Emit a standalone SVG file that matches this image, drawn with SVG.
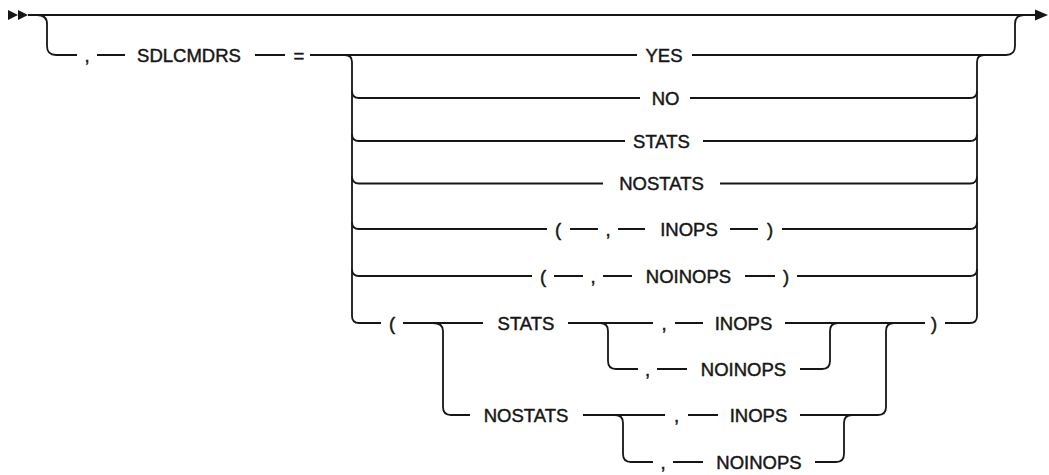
<svg xmlns="http://www.w3.org/2000/svg" width="1049" height="475" viewBox="0 0 1049 475">
<style>
.c{fill:none;stroke:#161616;stroke-width:1.8;stroke-linecap:butt}
.t{font-family:"Liberation Sans",Arial,sans-serif;font-size:18.5px;fill:#161616;stroke:#161616;stroke-width:0.45;text-anchor:middle}
.a{fill:#161616}
</style>
<rect width="1049" height="475" fill="#fff"/>
<g id="connectors">
<path class="c" d="M28,15 H1036"/>
<path class="c" d="M37,15 Q47,15 47,24 V46 Q47,55 56,55 H77"/>
<path class="c" d="M97,55 H125 M255,55 H285 M310,55 H637 M692,55 H1006 Q1015,55 1015,46 V24 Q1015,15 1024,15"/>
<path class="c" d="M345,55 Q352,55 352,62 V316 Q352,323 359,323 H381"/>
<path class="c" d="M352,91 Q352,98 359,98 H640 M352,134 Q352,141 359,141 H625 M352,176.5 Q352,183.5 359,183.5 H603 M352,222 Q352,229 359,229 H547 M352,269 Q352,276 359,276 H532"/>
<path class="c" d="M977,316 V62 Q977,55 984,55"/>
<path class="c" d="M690,98 H970 Q977,98 977,91 M703,141 H970 Q977,141 977,134 M720,183.5 H970 Q977,183.5 977,176.5 M782,229 H970 Q977,229 977,222 M797,276 H970 Q977,276 977,269 M945,323 H970 Q977,323 977,316"/>
<path class="c" d="M570,229 H598 M618,229 H645 M730,229 H758 M554,276 H583 M603,276 H632 M745,276 H775"/>
<path class="c" d="M403,323 H483 M568,323 H653 M675,323 H703 M785,323 H925"/>
<path class="c" d="M433,323 Q443,323 443,331 V407 Q443,415 451,415 H470"/>
<path class="c" d="M600,323 Q608,323 608,331 V361 Q608,369 616,369 H638"/>
<path class="c" d="M657,369 H687 M800,369 H822 Q830,369 830,361 V331 Q830,323 838,323"/>
<path class="c" d="M583,415 H665 M688,415 H718 M800,415 H878 Q886,415 886,407 V331 Q886,323 894,323"/>
<path class="c" d="M615,415 Q623,415 623,423 V454 Q623,462 631,462 H653"/>
<path class="c" d="M673,462 H703 M815,462 H836 Q844,462 844,454 V423 Q844,415 852,415"/>
</g>
<g id="start"><polygon class="a" points="8,10 18,15 8,20"/><polygon class="a" points="18,10 28,15 18,20"/></g>
<g id="end"><polygon class="a" points="1035,9.5 1048,15 1035,20.5"/></g>
<g id="kw-sdlcmdrs">
<text class="t" x="87" y="61.5">,</text>
<text class="t" x="189" y="61.5">SDLCMDRS</text>
<text class="t" x="299" y="61.5">=</text>
</g>
<g id="opt-yes"><text class="t" x="664" y="61.5">YES</text></g>
<g id="opt-no"><text class="t" x="665.5" y="104.5">NO</text></g>
<g id="opt-stats"><text class="t" x="661.5" y="147.5">STATS</text></g>
<g id="opt-nostats"><text class="t" x="661.5" y="190">NOSTATS</text></g>
<g id="opt-inops">
<text class="t" x="558" y="235.5">(</text>
<text class="t" x="608" y="235.5">,</text>
<text class="t" x="689" y="235.5">INOPS</text>
<text class="t" x="770" y="235.5">)</text>
</g>
<g id="opt-noinops">
<text class="t" x="543" y="282.5">(</text>
<text class="t" x="593" y="282.5">,</text>
<text class="t" x="688.5" y="282.5">NOINOPS</text>
<text class="t" x="786" y="282.5">)</text>
</g>
<g id="opt-combo">
<text class="t" x="392" y="329.5">(</text>
<text class="t" x="526" y="329.5">STATS</text>
<text class="t" x="664" y="329.5">,</text>
<text class="t" x="743.5" y="329.5">INOPS</text>
<text class="t" x="934" y="329.5">)</text>
<text class="t" x="647.5" y="375.5">,</text>
<text class="t" x="743.5" y="375.5">NOINOPS</text>
<text class="t" x="526" y="421.5">NOSTATS</text>
<text class="t" x="676.5" y="421.5">,</text>
<text class="t" x="758.5" y="421.5">INOPS</text>
<text class="t" x="663" y="468.5">,</text>
<text class="t" x="759" y="468.5">NOINOPS</text>
</g>
</svg>
